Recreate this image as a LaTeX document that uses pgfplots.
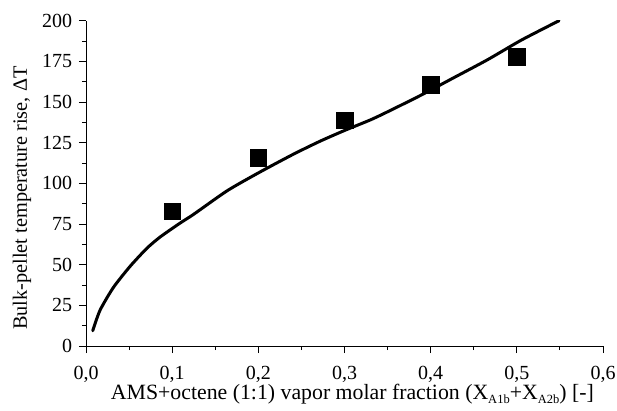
\documentclass[border=0pt]{standalone}
\usepackage{fontspec}
\setmainfont{Liberation Serif}
\usepackage{pgfplots}
\pgfplotsset{compat=1.18}
\newcommand{\sub}[1]{\raisebox{-0.45ex}{\fontsize{12.5}{13}\selectfont #1}}
\begin{document}
\fontsize{20}{22}\selectfont
\begin{tikzpicture}
\begin{axis}[
  scale only axis, width=517pt, height=325.3pt,
  xmin=0, xmax=0.6, ymin=0, ymax=200,
  axis x line*=bottom, axis y line*=left,
  axis line style={line width=0.9pt},
  xtick={0,0.1,0.2,0.3,0.4,0.5,0.6},
  ytick={0,25,50,75,100,125,150,175,200},
  minor x tick num=1, minor y tick num=1,
  tick align=outside,
  major tick length=7pt, minor tick length=4pt,
  every tick/.style={line width=0.9pt, black},
  xticklabel style={yshift=-6pt, /pgf/number format/.cd, use comma, fixed, fixed zerofill, precision=1},
  /pgf/number format/assume math mode=true,
  ticklabel style={font=\fontsize{20}{22}\selectfont},
  xlabel={AMS+octene (1:1) vapor molar fraction (X\sub{A1b}+X\sub{A2b}) [-]},
  xlabel style={font=\fontsize{21.8}{24}\selectfont, at={(axis description cs:0.0478,-0.147)}, anchor=west, inner sep=0pt},
  ylabel={Bulk-pellet temperature rise, ΔT},
  ylabel style={font=\fontsize{20.3}{22}\selectfont, at={(axis description cs:-0.1238,0.049)}, anchor=west, inner sep=0pt},
]
\addplot[black, line width=3pt, line cap=round, smooth, tension=0.4] coordinates {
(0.0078,9.4) (0.0163,22) (0.0318,36) (0.0512,49) (0.0705,60) (0.086,67)
(0.109,75.5) (0.125,81) (0.164,95.5) (0.202,107) (0.241,118) (0.272,126)
(0.30,132.5) (0.33,139) (0.35,144) (0.388,154) (0.427,165) (0.466,176)
(0.505,188) (0.549,200)
};
\addplot[only marks, mark=square*, mark size=8.3pt, black] coordinates {
(0.1,82.9) (0.2,115.9) (0.3,138.8) (0.4,160.7) (0.5,177.7)
};
\end{axis}
\pgfresetboundingbox
\path ([xshift=-86pt,yshift=-64pt]current axis.south west) rectangle ([xshift=14pt,yshift=20.7pt]current axis.north east);
\end{tikzpicture}
\end{document}
